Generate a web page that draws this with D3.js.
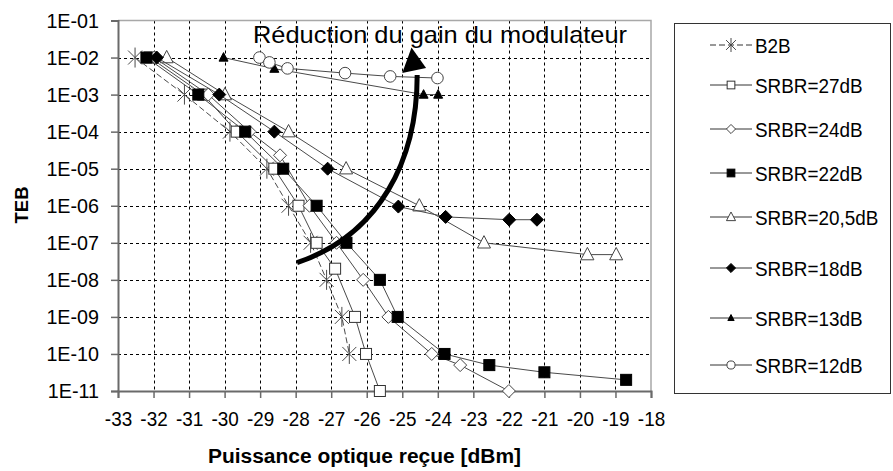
<!DOCTYPE html>
<html>
<head>
<meta charset="utf-8">
<script src="https://cdn.jsdelivr.net/npm/d3@7"></script>
<style>
  html, body { margin: 0; padding: 0; background: #fff; }
  svg text { font-family: "Liberation Sans", Arial, sans-serif; fill: #000; }
</style>
</head>
<body>
<svg id="chart" width="893" height="471"></svg>
<script>
// Received optical power (dBm) and bit error rate for each configuration
const seriesNames = ["B2B", "SRBR=27dB", "SRBR=24dB", "SRBR=22dB", "SRBR=20,5dB", "SRBR=18dB", "SRBR=13dB", "SRBR=12dB"];

const powerB2B = [-32.52, -31.13, -29.85, -28.81, -28.2, -27.58, -27.13, -26.7, -26.49];
const tebB2B   = [1e-2, 1e-3, 1e-4, 1e-5, 1e-6, 1e-7, 1e-8, 1e-9, 1e-10];

const power27 = [-32.1, -30.6, -29.66, -28.6, -27.92, -27.41, -26.89, -26.33, -26.02, -25.63];
const teb27   = [1e-2, 1e-3, 1e-4, 1e-5, 1e-6, 1e-7, 2e-8, 1e-9, 1e-10, 1e-11];

const power24 = [-31.98, -30.46, -29.3, -28.44, -27.61, -26.85, -26.1, -25.39, -24.17, -23.37, -22.0];
const teb24   = [1e-2, 1e-3, 1e-4, 2.3e-5, 1e-6, 1e-7, 1e-8, 1e-9, 1e-10, 5e-11, 1e-11];

const power22 = [-32.2, -30.74, -29.42, -28.35, -27.41, -26.57, -25.63, -25.13, -23.81, -22.55, -21.0, -18.7];
const teb22   = [1e-2, 1e-3, 1e-4, 1e-5, 1e-6, 1e-7, 1e-8, 1e-9, 1e-10, 5e-11, 3.2e-11, 2e-11];

const power205 = [-31.63, -29.99, -28.2, -26.58, -24.52, -22.7, -19.79, -18.98];
const teb205   = [1e-2, 1e-3, 1e-4, 1e-5, 1e-6, 1e-7, 4.8e-8, 4.8e-8];

const power18 = [-31.91, -30.15, -28.6, -27.1, -25.11, -23.78, -21.99, -21.21];
const teb18   = [1e-2, 1e-3, 1e-4, 1e-5, 9.5e-7, 5e-7, 4.2e-7, 4.2e-7];

const power13 = [-30.03, -28.6, -24.4, -23.99];
const teb13   = [1e-2, 5e-3, 1e-3, 1e-3];

const power12 = [-29.02, -28.74, -28.23, -26.61, -25.34, -24.01];
const teb12   = [1e-2, 7.4e-3, 5.1e-3, 3.8e-3, 3.1e-3, 2.8e-3];

const xTicks = [-33, -32, -31, -30, -29, -28, -27, -26, -25, -24, -23, -22, -21, -20, -19, -18];
const yTicks = [1e-1, 1e-2, 1e-3, 1e-4, 1e-5, 1e-6, 1e-7, 1e-8, 1e-9, 1e-10, 1e-11];

// Curved annotation arrow, expressed in data units (dBm, TEB)
const arrowPath = [[-27.96, 2.9e-8], [-25.63, 1.66e-7], [-24.58, 1.74e-5], [-24.58, 3.4e-3]];
const arrowHead = [[-24.74, 1.87e-2], [-25.0, 3.85e-3], [-24.33, 5.25e-3]];
const annotation = "Réduction du gain du modulateur";

const series = [
  { name: seriesNames[0], x: powerB2B, y: tebB2B, marker: "star", dash: "6,3" },
  { name: seriesNames[1], x: power27, y: teb27, marker: "squareOpen" },
  { name: seriesNames[2], x: power24, y: teb24, marker: "diamondOpen" },
  { name: seriesNames[3], x: power22, y: teb22, marker: "squareFill" },
  { name: seriesNames[4], x: power205, y: teb205, marker: "triangleOpen" },
  { name: seriesNames[5], x: power18, y: teb18, marker: "diamondFill" },
  { name: seriesNames[6], x: power13, y: teb13, marker: "triangleFill" },
  { name: seriesNames[7], x: power12, y: teb12, marker: "circleOpen" }
];

const svg = d3.select("#chart");
const plot = { left: 118, right: 651, top: 20.5, bottom: 391 };

const x = d3.scaleLinear().domain([-33, -18]).range([plot.left, plot.right]);
const y = d3.scaleLog().domain([1e-11, 1e-1]).range([plot.bottom, plot.top]);

const fmtY = d => {
  const e = Math.round(Math.log10(d));
  const a = Math.abs(e);
  return "1E" + (e < 0 ? "-" : "+") + (a < 10 ? "0" + a : "" + a);
};
const fmtX = d => String(d);   // plain hyphen-minus

// Dashed grid
const grid = svg.append("g");
grid.selectAll("line.h").data(yTicks.slice(1, -1)).join("line")
  .attr("x1", plot.left).attr("x2", plot.right)
  .attr("y1", d => Math.round(y(d)) + 0.5).attr("y2", d => Math.round(y(d)) + 0.5)
  .attr("stroke", "#000").attr("stroke-width", 1).attr("stroke-dasharray", "3,3");
grid.selectAll("line.v").data(xTicks.slice(1, -1)).join("line")
  .attr("x1", d => Math.round(x(d)) + 0.5).attr("x2", d => Math.round(x(d)) + 0.5)
  .attr("y1", plot.top).attr("y2", plot.bottom)
  .attr("stroke", "#000").attr("stroke-width", 1).attr("stroke-dasharray", "3,3");

// Plot frame (top and right)
svg.append("path")
  .attr("d", `M${plot.left},${plot.top}H${plot.right}V${plot.bottom}`)
  .attr("fill", "none").attr("stroke", "#a8a8a8").attr("stroke-width", 1.5);

// Axes
const xAxis = svg.append("g").attr("transform", `translate(0,${plot.bottom})`)
  .call(d3.axisBottom(x).tickValues(xTicks).tickSize(7).tickPadding(13).tickFormat(fmtX));
const yAxis = svg.append("g").attr("transform", `translate(${plot.left},0)`)
  .call(d3.axisLeft(y).tickValues(yTicks).tickSize(7).tickPadding(13.2).tickFormat(fmtY));
[xAxis, yAxis].forEach(g => {
  g.select(".domain").attr("stroke", "#6a6a6a").attr("stroke-width", 2);
  g.selectAll(".tick line").attr("stroke", "#6a6a6a").attr("stroke-width", 1.5);
  g.selectAll("text").attr("font-size", 21).attr("font-family", "'Liberation Sans', Arial, sans-serif").attr("fill", "#000");
});
// Slightly condensed tick glyphs
xAxis.selectAll(".tick text").attr("transform", "scale(0.9,1)");
yAxis.selectAll(".tick text").attr("transform", "scale(0.94,1)");

// Axis titles
svg.append("text").attr("x", 208).attr("y", 463)
  .attr("font-size", 19.5).attr("font-weight", "bold")
  .attr("textLength", 313).attr("lengthAdjust", "spacingAndGlyphs")
  .text("Puissance optique reçue [dBm]");
svg.append("text").attr("transform", "translate(28,205) rotate(-90)").attr("text-anchor", "middle")
  .attr("font-size", 18.5).attr("font-weight", "bold").text("TEB");

// Marker drawing
function drawMarker(g, type, s) {
  const k = s || 1;
  switch (type) {
    case "star": {
      const a = 7 * k, b = 10 * k;
      g.append("path").attr("d", `M${-a},${-a}L${a},${a}M${-a},${a}L${a},${-a}M0,${-b}L0,${b}`)
        .attr("stroke", "#4a4a4a").attr("stroke-width", 1).attr("fill", "none");
      break;
    }
    case "squareOpen":
      g.append("rect").attr("x", -5.5 * k).attr("y", -5.5 * k).attr("width", 11 * k).attr("height", 11 * k)
        .attr("fill", "#fff").attr("stroke", "#333").attr("stroke-width", 1);
      break;
    case "squareFill":
      g.append("rect").attr("x", -5.5 * k).attr("y", -5.5 * k).attr("width", 11 * k).attr("height", 11 * k)
        .attr("fill", "#000").attr("stroke", "#000").attr("stroke-width", 1);
      break;
    case "diamondOpen": {
      const r = 6.5 * k;
      g.append("path").attr("d", `M0,${-r}L${r},0L0,${r}L${-r},0Z`)
        .attr("fill", "#fff").attr("stroke", "#444").attr("stroke-width", 1);
      break;
    }
    case "diamondFill": {
      const r = 6.5 * k;
      g.append("path").attr("d", `M0,${-r}L${r},0L0,${r}L${-r},0Z`)
        .attr("fill", "#000").attr("stroke", "#000").attr("stroke-width", 1);
      break;
    }
    case "triangleOpen": {
      const r = 6.5 * k;
      g.append("path").attr("d", `M0,${-r * 1.1}L${r},${r * 0.8}L${-r},${r * 0.8}Z`)
        .attr("fill", "#fff").attr("stroke", "#444").attr("stroke-width", 1);
      break;
    }
    case "triangleFill": {
      const r = 4.5 * k;
      g.append("path").attr("d", `M0,${-r * 1.1}L${r},${r * 0.8}L${-r},${r * 0.8}Z`)
        .attr("fill", "#000").attr("stroke", "#000").attr("stroke-width", 1);
      break;
    }
    case "circleOpen":
      g.append("circle").attr("r", 5.8 * k)
        .attr("fill", "#fff").attr("stroke", "#444").attr("stroke-width", 1);
      break;
  }
}

// Series lines and markers
const line = d3.line().x(d => x(d[0])).y(d => y(d[1]));
series.forEach(s => {
  const pts = s.x.map((v, i) => [v, s.y[i]]);
  const g = svg.append("g");
  g.append("path").attr("d", line(pts)).attr("fill", "none")
    .attr("stroke", "#4a4a4a").attr("stroke-width", 1)
    .attr("stroke-dasharray", s.dash || null);
  pts.forEach(p => {
    const m = g.append("g").attr("transform", `translate(${x(p[0])},${y(p[1])})`);
    drawMarker(m, s.marker, 1);
  });
});

// Annotation arrow
const ap = arrowPath.map(p => [x(p[0]), y(p[1])]);
svg.append("path")
  .attr("d", `M${ap[0][0]},${ap[0][1]}C${ap[1][0]},${ap[1][1]} ${ap[2][0]},${ap[2][1]} ${ap[3][0]},${ap[3][1]}`)
  .attr("fill", "none").attr("stroke", "#000").attr("stroke-width", 5);
svg.append("path")
  .attr("d", "M" + arrowHead.map(p => [x(p[0]), y(p[1])].join(",")).join("L") + "Z")
  .attr("fill", "#000");
svg.append("text").attr("x", 253).attr("y", 43).attr("font-size", 24)
  .attr("textLength", 374).attr("lengthAdjust", "spacingAndGlyphs").text(annotation);

// Legend
const legend = svg.append("g");
legend.append("rect").attr("x", 674.5).attr("y", 23.5).attr("width", 216).attr("height", 370)
  .attr("fill", "#fff").attr("stroke", "#333").attr("stroke-width", 1);
const legendRows = [45, 85, 129, 173, 217, 268, 318, 365];
series.forEach((s, i) => {
  const ly = legendRows[i];
  const g = legend.append("g").attr("transform", `translate(0,${ly})`);
  g.append("line").attr("x1", 710).attr("x2", 752).attr("y1", 0).attr("y2", 0)
    .attr("stroke", "#333").attr("stroke-width", 1).attr("stroke-dasharray", s.dash || null);
  const m = g.append("g").attr("transform", "translate(731,0)");
  drawMarker(m, s.marker, 0.7);
  g.append("text").attr("transform", "translate(755,7.5) scale(0.9,1)")
    .attr("font-size", 21).text(s.name);
});
</script>
</body>
</html>
